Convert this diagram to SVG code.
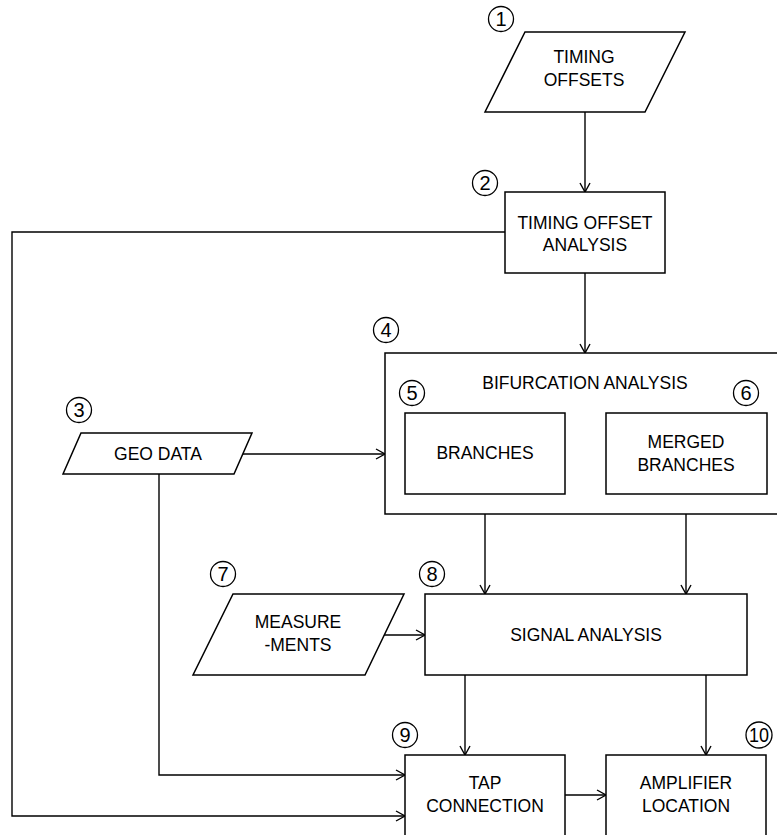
<svg xmlns="http://www.w3.org/2000/svg" width="777" height="835" viewBox="0 0 777 835">
<style>
.shape{fill:#fff;stroke:#000;stroke-width:1.5}
.conn{fill:none;stroke:#000;stroke-width:1.4}
.t{font-family:"Liberation Sans",Arial,sans-serif;font-size:17.5px;fill:#000;text-anchor:middle}
.num{fill:none;stroke:#000;stroke-width:1.3}
.n{font-family:"Liberation Sans",Arial,sans-serif;font-size:20px;fill:#000;text-anchor:middle}
</style>
<defs>
<marker id="arr" markerUnits="userSpaceOnUse" markerWidth="12" markerHeight="12" refX="10" refY="6" orient="auto">
<path d="M1,1 L10,6 L1,11" fill="none" stroke="#000" stroke-width="1.4"/>
</marker>
</defs>
<rect width="777" height="835" fill="#fff"/>

<g id="connectors">
<path class="conn" d="M585,112 V192" marker-end="url(#arr)"/>
<path class="conn" d="M585,273 V353" marker-end="url(#arr)"/>
<path class="conn" d="M505,232 H12 V816 H405" marker-end="url(#arr)"/>
<path class="conn" d="M243,454 H385" marker-end="url(#arr)"/>
<path class="conn" d="M159,474 V775 H405" marker-end="url(#arr)"/>
<path class="conn" d="M485,494 V594" marker-end="url(#arr)"/>
<path class="conn" d="M686,494 V594" marker-end="url(#arr)"/>
<path class="conn" d="M384,635 H425" marker-end="url(#arr)"/>
<path class="conn" d="M465,675 V755" marker-end="url(#arr)"/>
<path class="conn" d="M706,675 V755" marker-end="url(#arr)"/>
<path class="conn" d="M565,795 H606" marker-end="url(#arr)"/>
</g>

<g id="node1">
<polygon class="shape" points="525,32 685,32 645,112 485,112"/>
<text class="t" x="584" y="63">TIMING</text>
<text class="t" x="584" y="86">OFFSETS</text>
<circle class="num" cx="501" cy="19" r="12.5"/>
<text class="n" x="501" y="26">1</text>
</g>

<g id="node2">
<rect class="shape" x="505" y="192" width="160" height="81"/>
<text class="t" x="585" y="229">TIMING OFFSET</text>
<text class="t" x="585" y="251">ANALYSIS</text>
<circle class="num" cx="485" cy="183" r="12.5"/>
<text class="n" x="485" y="190">2</text>
</g>

<g id="node3">
<polygon class="shape" points="81,433 252,433 234,474 63,474"/>
<text class="t" x="158" y="460">GEO DATA</text>
<circle class="num" cx="79" cy="410" r="12.5"/>
<text class="n" x="79" y="417">3</text>
</g>

<g id="node4">
<rect class="shape" x="385" y="353" width="400" height="161"/>
<text class="t" x="585" y="389">BIFURCATION ANALYSIS</text>
<circle class="num" cx="386" cy="330" r="12.5"/>
<text class="n" x="386" y="337">4</text>
</g>

<g id="node5">
<rect class="shape" x="405" y="413" width="160" height="81"/>
<text class="t" x="485" y="459">BRANCHES</text>
<circle class="num" cx="412" cy="393" r="12.5"/>
<text class="n" x="412" y="400">5</text>
</g>

<g id="node6">
<rect class="shape" x="606" y="413" width="161" height="81"/>
<text class="t" x="686" y="448">MERGED</text>
<text class="t" x="686" y="471">BRANCHES</text>
<circle class="num" cx="746" cy="393" r="12.5"/>
<text class="n" x="746" y="400">6</text>
</g>

<g id="node7">
<polygon class="shape" points="233,594 404,594 365,675 193,675"/>
<text class="t" x="298" y="628">MEASURE</text>
<text class="t" x="298" y="651">-MENTS</text>
<circle class="num" cx="223" cy="574" r="12.5"/>
<text class="n" x="223" y="581">7</text>
</g>

<g id="node8">
<rect class="shape" x="425" y="594" width="322" height="81"/>
<text class="t" x="586" y="641">SIGNAL ANALYSIS</text>
<circle class="num" cx="432" cy="574" r="12.5"/>
<text class="n" x="432" y="581">8</text>
</g>

<g id="node9">
<rect class="shape" x="405" y="755" width="160" height="90"/>
<text class="t" x="485" y="789">TAP</text>
<text class="t" x="485" y="812">CONNECTION</text>
<circle class="num" cx="405" cy="735" r="12.5"/>
<text class="n" x="405" y="742">9</text>
</g>

<g id="node10">
<rect class="shape" x="606" y="755" width="160" height="90"/>
<text class="t" x="686" y="789">AMPLIFIER</text>
<text class="t" x="686" y="812">LOCATION</text>
<circle class="num" cx="759" cy="735" r="13"/>
<text class="n" x="759" y="742" font-size="18" textLength="20" lengthAdjust="spacingAndGlyphs">10</text>
</g>
</svg>
